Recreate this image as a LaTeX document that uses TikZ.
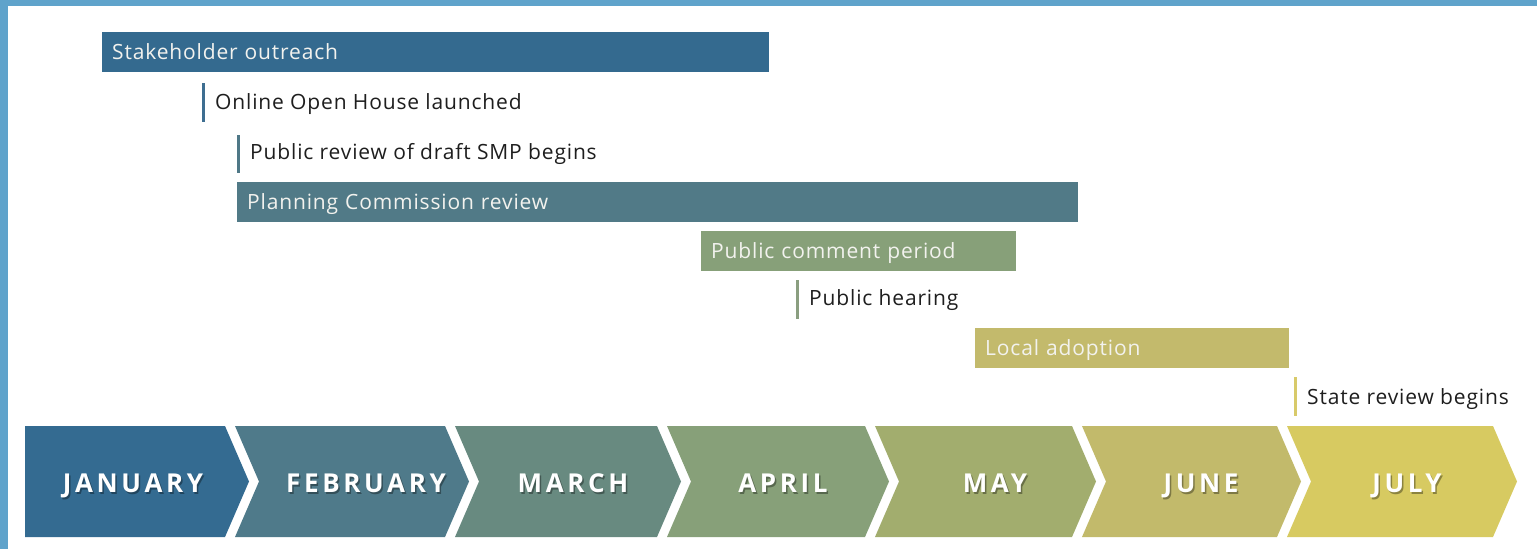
\documentclass[tikz,border=0pt]{standalone}
\usepackage{fontspec}
\setmainfont{Open Sans}[LetterSpace=4]
\newfontfamily\monthfont{Open Sans}[LetterSpace=14]
\definecolor{frameblue}{HTML}{5FA3CB}
\definecolor{cso}{HTML}{346A8F}
\definecolor{coh}{HTML}{3E6E91}
\definecolor{cpc}{HTML}{517A87}
\definecolor{cpr}{HTML}{4F7887}
\definecolor{ccp}{HTML}{87A079}
\definecolor{cph}{HTML}{8A9E80}
\definecolor{cla}{HTML}{C3BA6C}
\definecolor{csr}{HTML}{D8CA6A}
\definecolor{mjan}{HTML}{346B91}
\definecolor{mfeb}{HTML}{4F7A8A}
\definecolor{mmar}{HTML}{688A80}
\definecolor{mapr}{HTML}{87A079}
\definecolor{mmay}{HTML}{A2AD6E}
\definecolor{mjun}{HTML}{C2BA6B}
\definecolor{mjul}{HTML}{D7CA61}
\definecolor{labeltext}{HTML}{1E1E1E}
\definecolor{bartext}{HTML}{F2F2EE}
\begin{document}
\begin{tikzpicture}[x=1pt,y=-1pt,
  barbox/.style={anchor=north west, inner xsep=10pt, inner ysep=0pt,
    minimum height=40pt, text height=14.5pt, text depth=0pt, align=left,
    text=bartext, font=\fontsize{21}{24}\selectfont},
  marker/.style={line width=3pt},
  mlabel/.style={anchor=base west, inner sep=0pt, text=labeltext,
    font=\fontsize{21}{24}\selectfont},
  month/.style={inner sep=0pt, text=white,
    font=\fontsize{26}{30}\selectfont\bfseries\monthfont},
  monthshadow/.style={inner sep=0pt, text=black, opacity=0.35,
    font=\fontsize{26}{30}\selectfont\bfseries\monthfont},
]
\useasboundingbox (0,0) rectangle (1537,549);
% frame
\fill[frameblue] (0,0) rectangle (1537,6);
\fill[frameblue] (0,0) rectangle (8,549);

% bars
\node[barbox, fill=cso, text width=647pt] (so) at (102,32) {Stakeholder outreach};
\node[barbox, fill=cpc, text width=821pt] (pc) at (237,182) {Planning Commission review};
\node[barbox, fill=ccp, text width=295pt] (cp) at (701,231) {Public comment period};
\node[barbox, fill=cla, text width=294pt] (la) at (975,328) {Local adoption};

% point markers
\coordinate (ohT) at (203,83); \coordinate (ohB) at (203,122);
\draw[marker, coh] (ohT) -- (ohB);
\node[mlabel] (oh) at (215,109.5) {Online Open House launched};

\coordinate (prT) at (238,135); \coordinate (prB) at (238,173);
\draw[marker, cpr] (prT) -- (prB);
\node[mlabel] (pr) at (250,159.5) {Public review of draft SMP begins};

\coordinate (phT) at (797,280); \coordinate (phB) at (797,319);
\draw[marker, cph] (phT) -- (phB);
\node[mlabel] (ph) at (809,305.5) {Public hearing};

\coordinate (srT) at (1295,377); \coordinate (srB) at (1295,416);
\draw[marker, csr] (srT) -- (srB);
\node[mlabel] (sr) at (1307,404.5) {State review begins};

% chevrons
\def\ct{426}\def\cb{537}\def\cm{481.5}
\fill[mjan] (25,\ct) -- (225,\ct) -- (249,\cm) -- (225,\cb) -- (25,\cb) -- cycle;
\fill[mfeb] (235,\ct) -- (445,\ct) -- (469,\cm) -- (445,\cb) -- (235,\cb) -- (259,\cm) -- cycle;
\fill[mmar] (455,\ct) -- (657,\ct) -- (681,\cm) -- (657,\cb) -- (455,\cb) -- (479,\cm) -- cycle;
\fill[mapr] (667,\ct) -- (865,\ct) -- (889,\cm) -- (865,\cb) -- (667,\cb) -- (691,\cm) -- cycle;
\fill[mmay] (875,\ct) -- (1072,\ct) -- (1096,\cm) -- (1072,\cb) -- (875,\cb) -- (899,\cm) -- cycle;
\fill[mjun] (1082,\ct) -- (1277,\ct) -- (1301,\cm) -- (1277,\cb) -- (1082,\cb) -- (1106,\cm) -- cycle;
\fill[mjul] (1287,\ct) -- (1493,\ct) -- (1517,\cm) -- (1493,\cb) -- (1287,\cb) -- (1311,\cm) -- cycle;

% month labels
\foreach \x/\m/\n in {133/JANUARY/jan, 366/FEBRUARY/feb, 573/MARCH/mar, 783/APRIL/apr, 995/MAY/may, 1201/JUNE/jun, 1407/JULY/jul}{
  \node[monthshadow, text height=19pt, text depth=0pt] at (\x+1.5,484.5) {\m};
  \node[month, text height=19pt, text depth=0pt] (\n) at (\x,483) {\m};
}
\end{tikzpicture}
\end{document}
